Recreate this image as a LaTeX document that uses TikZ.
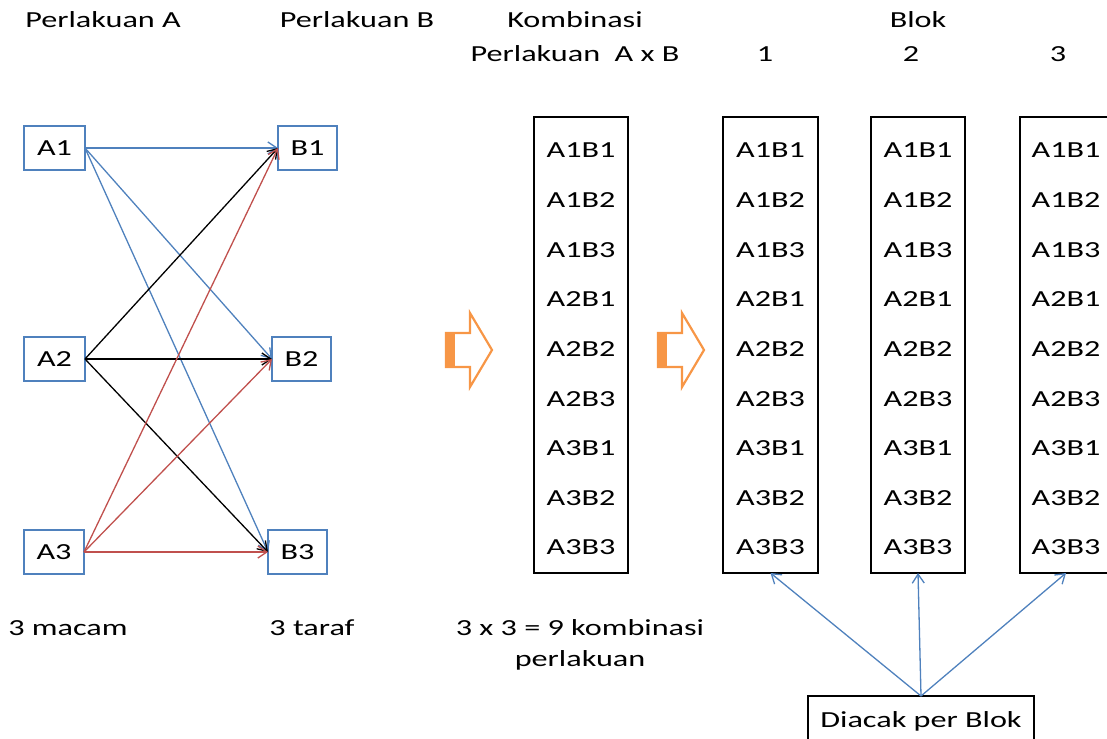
\documentclass[tikz,border=0pt]{standalone}
\usepackage{fontspec}
\setmainfont{Carlito}[FakeStretch=1.4]
\usetikzlibrary{arrows.meta}
\definecolor{oblue}{HTML}{4F81BD}
\definecolor{ored}{HTML}{C0504D}
\definecolor{oorange}{HTML}{F79646}
\begin{document}
\begin{tikzpicture}[x=1pt,y=-1pt,
  every node/.style={font=\fontsize{23pt}{27pt}\selectfont, inner sep=0pt, outer sep=0pt},
  fbox/.style={draw=oblue, line width=1.5pt, minimum height=44pt},
  colbox/.style={draw=black, line width=1.3pt, minimum width=94pt, minimum height=456pt},
  lbl/.style={anchor=base},
  conn/.style={line width=1.3pt, -{Straight Barb[length=9pt,width=12pt,line width=1.3pt]}},
  bigarrow/.style={draw=oorange, line width=2.2pt, line join=miter},
]
\useasboundingbox (0,0) rectangle (1107,738);
\clip (0,0) rectangle (1107,738);

% headers
\node[lbl] (hA) at (103,28) {Perlakuan A};
\node[lbl] (hB) at (357,28) {Perlakuan B};
\node[lbl] (hK1) at (575,28) {Kombinasi};
\node[lbl] (hK2) at (575,62) {Perlakuan\ \ A x B};
\node[lbl] (hBlok) at (918,28) {Blok};
\node[lbl] (h1) at (765,62) {1};
\node[lbl] (h2) at (911,62) {2};
\node[lbl] (h3) at (1058,62) {3};

% A and B boxes
\node[fbox, minimum width=61pt] (A1) at (54.5,148) {A1};
\node[fbox, minimum width=61pt] (A2) at (54.5,359) {A2};
\node[fbox, minimum width=60pt] (A3) at (54,552) {A3};
\node[fbox, minimum width=59pt] (B1) at (307.5,148) {B1};
\node[fbox, minimum width=59pt] (B2) at (301.5,359) {B2};
\node[fbox, minimum width=59pt] (B3) at (297.5,552) {B3};

% connectors
\draw[conn, oblue] (A1.east) -- (B1.west);
\draw[conn, oblue] (A1.east) -- (B2.west);
\draw[conn, oblue] (A1.east) -- (B3.west);
\draw[conn, black] (A2.east) -- (B1.west);
\draw[conn, black] (A2.east) -- (B2.west);
\draw[conn, black] (A2.east) -- (B3.west);
\draw[conn, ored] (A3.east) -- (B1.west);
\draw[conn, ored] (A3.east) -- (B2.west);
\draw[conn, ored] (A3.east) -- (B3.west);

% bottom labels
\node[lbl] (t1) at (68,635) {3 macam};
\node[lbl] (t2) at (312,635) {3 taraf};
\node[lbl] (t3) at (580,635) {3 x 3 = 9 kombinasi};
\node[lbl] (t4) at (580,666) {perlakuan};

% orange block arrows
\foreach \dx in {0,212}{
  \fill[oorange] (446+\dx,333) rectangle (455+\dx,367);
  \draw[bigarrow] (446+\dx,333) -- (470+\dx,333) -- (470+\dx,313) -- (492+\dx,350)
     -- (470+\dx,387) -- (470+\dx,367) -- (446+\dx,367) -- cycle;
}

% columns
\node[colbox] (comb) at (581,345) {};
\node[colbox, minimum width=95pt] (blok1) at (770.5,345) {};
\node[colbox] (blok2) at (918,345) {};
\node[colbox, minimum width=92pt] (blok3) at (1066,345) {};

\foreach \t [count=\i from 0] in {A1B1,A1B2,A1B3,A2B1,A2B2,A2B3,A3B1,A3B2,A3B3}{
  \node[lbl] (c\i) at (581,158+49.6*\i) {\t};
  \node[lbl] (ba\i) at (770.5,158+49.6*\i) {\t};
  \node[lbl] (bb\i) at (918,158+49.6*\i) {\t};
  \node[lbl] (bc\i) at (1066,158+49.6*\i) {\t};
}

% Diacak box
\node[draw=black, line width=1.3pt, minimum width=226pt, minimum height=50pt, anchor=north] (diacak) at (921,696) {};
\node[lbl] (diacakt) at (921,727) {Diacak per Blok};

\draw[conn, oblue] (diacak.north) -- (blok1.south);
\draw[conn, oblue] (diacak.north) -- (blok2.south);
\draw[conn, oblue] (diacak.north) -- (blok3.south);
\end{tikzpicture}
\end{document}
